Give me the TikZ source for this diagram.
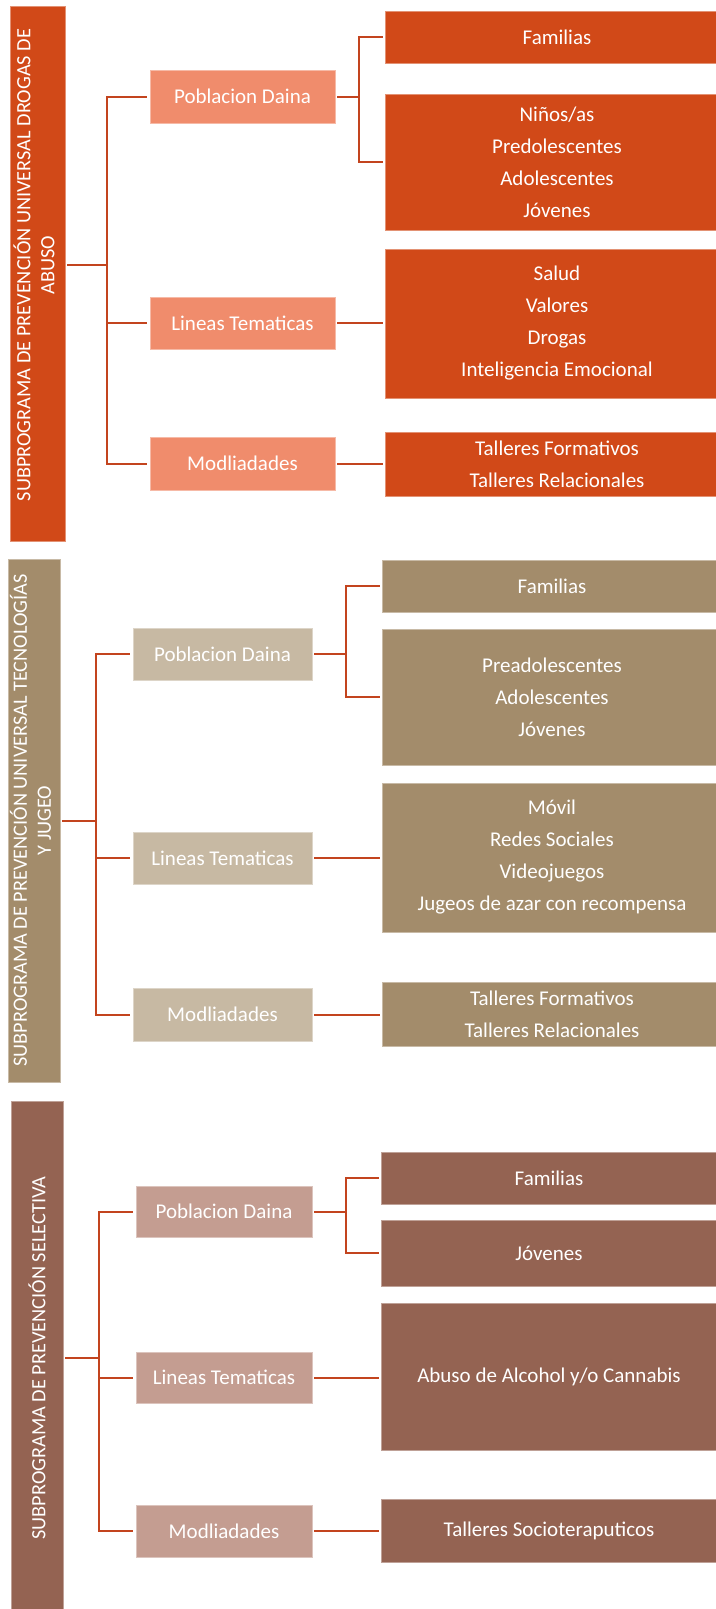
\documentclass[tikz,border=0pt]{standalone}
\usepackage{fontspec}
\setmainfont{Carlito}
\usetikzlibrary{calc}
\definecolor{ca}{RGB}{209,73,24}
\definecolor{cal}{RGB}{240,140,108}
\definecolor{cb}{RGB}{163,140,107}
\definecolor{cbl}{RGB}{199,185,163}
\definecolor{cc}{RGB}{148,99,82}
\definecolor{ccl}{RGB}{196,157,145}
\definecolor{linec}{RGB}{195,68,30}
\tikzset{
  box/.style={rectangle, inner sep=0pt, text=white, align=center,
    font=\fontsize{21}{32}\selectfont, line width=0.6pt},
  barbox/.style={box, font=\fontsize{20.3}{24}\selectfont},
  conn/.style={draw=linec, line width=2pt}
}
\begin{document}
\begin{tikzpicture}[x=1pt,y=-1pt]
\useasboundingbox (0,0) rectangle (715,1609);

% ---------------- Block 1 ----------------
\node[barbox, fill=ca, draw=ca!60!white, minimum width=55pt, minimum height=535pt] (bar1) at (37.5,273.5)
  {\rotatebox{90}{\hspace*{17pt}\begin{tabular}{@{}c@{}}SUBPROGRAMA DE PREVENCIÓN UNIVERSAL DROGAS DE\\ ABUSO\end{tabular}}};
\node[box, fill=cal, draw=cal!60!white, minimum width=185pt, minimum height=53pt] (p1) at (242.5,96.5) {Poblacion Daina};
\node[box, fill=cal, draw=cal!60!white, minimum width=185pt, minimum height=52pt] (l1) at (242.5,323) {Lineas Tematicas};
\node[box, fill=cal, draw=cal!60!white, minimum width=185pt, minimum height=53pt] (m1) at (242.5,463.5) {Modliadades};
\node[box, fill=ca, draw=ca!60!white, minimum width=344pt, minimum height=52pt] (f1) at (557,37) {Familias};
\node[box, fill=ca, draw=ca!60!white, minimum width=344pt, minimum height=136pt] (n1) at (557,162) {Niños/as\\Predolescentes\\Adolescentes\\Jóvenes};
\node[box, fill=ca, draw=ca!60!white, minimum width=344pt, minimum height=149pt] (t1) at (557,323.5) {Salud\\Valores\\Drogas\\Inteligencia Emocional};
\node[box, fill=ca, draw=ca!60!white, minimum width=344pt, minimum height=64pt] (w1) at (557,464) {Talleres Formativos\\Talleres Relacionales};

\draw[conn, shorten <=2pt] ([yshift=8.5pt]bar1.east) -- ++(42,0) coordinate (s1);
\draw[conn, shorten <=3pt, shorten >=3pt] (p1.west) -- (p1.west -| s1) -- (m1.west -| s1) -- (m1.west);
\draw[conn, shorten >=3pt] (s1 |- l1.west) -- (l1.west);
\coordinate (r1) at (359,96.5);
\draw[conn, shorten <=2pt] (p1.east) -- (r1);
\draw[conn, shorten <=2pt, shorten >=2pt] (f1.west) -- (f1.west -| r1) -- (n1.west -| r1) -- (n1.west);
\draw[conn, shorten <=2pt, shorten >=2pt] (l1.east) -- (l1.east -| t1.west);
\draw[conn, shorten <=2pt, shorten >=2pt] (m1.east) -- (m1.east -| w1.west);

% ---------------- Block 2 ----------------
\node[barbox, fill=cb, draw=cb!60!white, minimum width=52pt, minimum height=523pt] (bar2) at (34,820.5)
  {\rotatebox{90}{\begin{tabular}{@{}c@{}}SUBPROGRAMA DE PREVENCIÓN UNIVERSAL TECNOLOGÍAS\\ Y JUGEO\end{tabular}}};
\node[box, fill=cbl, draw=cbl!60!white, minimum width=179pt, minimum height=52pt] (p2) at (222.5,654) {Poblacion Daina};
\node[box, fill=cbl, draw=cbl!60!white, minimum width=179pt, minimum height=52pt] (l2) at (222.5,858) {Lineas Tematicas};
\node[box, fill=cbl, draw=cbl!60!white, minimum width=179pt, minimum height=53pt] (m2) at (222.5,1014.5) {Modliadades};
\node[box, fill=cb, draw=cb!60!white, minimum width=340pt, minimum height=52pt] (f2) at (552,586) {Familias};
\node[box, fill=cb, draw=cb!60!white, minimum width=340pt, minimum height=136pt] (n2) at (552,697) {Preadolescentes\\Adolescentes\\Jóvenes};
\node[box, fill=cb, draw=cb!60!white, minimum width=340pt, minimum height=149pt] (t2) at (552,857.5) {Móvil\\Redes Sociales\\Videojuegos\\Jugeos de azar con recompensa};
\node[box, fill=cb, draw=cb!60!white, minimum width=340pt, minimum height=64pt] (w2) at (552,1014) {Talleres Formativos\\Talleres Relacionales};

\draw[conn, shorten <=2pt] (bar2.east) -- ++(36,0) coordinate (s2);
\draw[conn, shorten <=3pt, shorten >=3pt] (p2.west) -- (p2.west -| s2) -- (m2.west -| s2) -- (m2.west);
\draw[conn, shorten >=3pt] (s2 |- l2.west) -- (l2.west);
\coordinate (r2) at (346,654);
\draw[conn, shorten <=2pt] (p2.east) -- (r2);
\draw[conn, shorten <=2pt, shorten >=2pt] (f2.west) -- (f2.west -| r2) -- (n2.west -| r2) -- (n2.west);
\draw[conn, shorten <=2pt, shorten >=2pt] (l2.east) -- (l2.east -| t2.west);
\draw[conn, shorten <=2pt, shorten >=2pt] (m2.east) -- (m2.east -| w2.west);

% ---------------- Block 3 ----------------
\node[barbox, fill=cc, draw=cc!60!white, minimum width=52pt, minimum height=514pt] (bar3) at (37,1358)
  {\rotatebox{90}{SUBPROGRAMA DE PREVENCIÓN SELECTIVA}};
\node[box, fill=ccl, draw=ccl!60!white, minimum width=176pt, minimum height=51pt] (p3) at (224,1211.5) {Poblacion Daina};
\node[box, fill=ccl, draw=ccl!60!white, minimum width=176pt, minimum height=51pt] (l3) at (224,1377.5) {Lineas Tematicas};
\node[box, fill=ccl, draw=ccl!60!white, minimum width=176pt, minimum height=52pt] (m3) at (224,1531) {Modliadades};
\node[box, fill=cc, draw=cc!60!white, minimum width=336pt, minimum height=52pt] (f3) at (549,1178) {Familias};
\node[box, fill=cc, draw=cc!60!white, minimum width=336pt, minimum height=66pt] (n3) at (549,1253) {Jóvenes};
\node[box, fill=cc, draw=cc!60!white, minimum width=336pt, minimum height=147pt] (t3) at (549,1376.5) {Abuso de Alcohol y/o Cannabis};
\node[box, fill=cc, draw=cc!60!white, minimum width=336pt, minimum height=63pt] (w3) at (549,1530.5) {Talleres Socioteraputicos};

\draw[conn, shorten <=2pt] (bar3.east) -- ++(36,0) coordinate (s3);
\draw[conn, shorten <=3pt, shorten >=3pt] (p3.west) -- (p3.west -| s3) -- (m3.west -| s3) -- (m3.west);
\draw[conn, shorten >=3pt] (s3 |- l3.west) -- (l3.west);
\coordinate (r3) at (346,1211.5);
\draw[conn, shorten <=2pt] (p3.east) -- (r3);
\draw[conn, shorten <=2pt, shorten >=2pt] (f3.west) -- (f3.west -| r3) -- (n3.west -| r3) -- (n3.west);
\draw[conn, shorten <=2pt, shorten >=2pt] (l3.east) -- (l3.east -| t3.west);
\draw[conn, shorten <=2pt, shorten >=2pt] (m3.east) -- (m3.east -| w3.west);
\end{tikzpicture}
\end{document}
